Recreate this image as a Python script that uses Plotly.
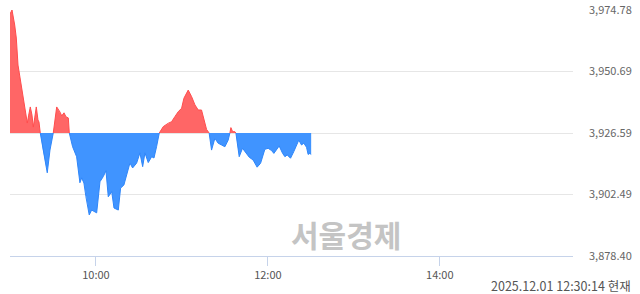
import plotly.graph_objects as go

# ---- data ----
times = [
    "09:00:00", "09:01:24", "09:03:17", "09:04:24", "09:05:35", "09:06:46", "09:07:53", "09:09:04",
    "09:10:16", "09:11:22", "09:12:04", "09:13:03", "09:14:10", "09:15:21", "09:16:16", "09:17:14",
    "09:18:21", "09:19:32", "09:20:14", "09:21:08", "09:23:00", "09:26:00", "09:27:54", "09:30:12",
    "09:32:36", "09:34:54", "09:36:06", "09:37:42", "09:39:06", "09:40:42", "09:41:24", "09:43:42",
    "09:46:30", "09:48:48", "09:50:00", "09:51:36", "09:53:00", "09:55:18", "09:57:00", "09:58:36",
    "10:00:30", "10:02:48", "10:05:06", "10:07:00", "10:08:36", "10:11:00", "10:12:36", "10:15:36",
    "10:17:12", "10:19:30", "10:21:24", "10:23:42", "10:25:36", "10:28:24", "10:30:42", "10:32:36",
    "10:34:12", "10:36:30", "10:38:54", "10:40:30", "10:42:18", "10:44:12", "10:47:00", "10:50:24",
    "10:52:48", "10:55:06", "10:57:24", "10:59:48", "11:01:24", "11:04:24", "11:06:48", "11:09:06",
    "11:11:24", "11:13:42", "11:15:18", "11:17:12", "11:19:00", "11:20:42", "11:23:00", "11:25:18",
    "11:27:42", "11:30:00", "11:32:18", "11:33:30", "11:34:12", "11:35:24", "11:37:00", "11:37:42",
    "11:38:36", "11:40:00", "11:42:18", "11:45:06", "11:47:00", "11:49:42", "11:52:30", "11:54:54",
    "11:57:54", "12:00:12", "12:02:36", "12:04:12", "12:06:06", "12:07:54", "12:10:18", "12:11:54",
    "12:13:30", "12:15:48", "12:18:06", "12:20:00", "12:21:36", "12:23:30", "12:25:06", "12:27:00",
    "12:28:06", "12:29:18", "12:30:14",
]
values = [
    3973.2, 3974.78, 3968.9, 3963.8, 3953.2, 3949.3, 3945.4, 3941.5,
    3937.6, 3933.6, 3930.5, 3933.6, 3936.8, 3933.6, 3928.9, 3932.5,
    3936.8, 3931.7, 3930.9, 3926.59, 3919.9, 3911.0, 3919.9, 3926.59,
    3936.8, 3934.8, 3933.3, 3934.5, 3932.9, 3932.5, 3926.59, 3921.2,
    3917.3, 3907.1, 3909.0, 3907.0, 3901.6, 3894.5, 3896.4, 3895.8,
    3895.3, 3907.5, 3909.5, 3911.8, 3901.6, 3903.6, 3897.2, 3896.4,
    3905.0, 3906.2, 3910.1, 3914.8, 3912.9, 3914.8, 3918.8, 3913.4,
    3918.8, 3915.0, 3917.3, 3916.8, 3921.2, 3926.59, 3929.1, 3930.4,
    3931.0, 3933.0, 3934.9, 3936.3, 3940.2, 3943.4, 3940.8, 3937.6,
    3935.6, 3935.6, 3932.3, 3928.0, 3926.59, 3919.9, 3924.5, 3922.6,
    3921.9, 3921.2, 3923.8, 3926.59, 3928.7, 3927.1, 3927.1, 3926.59,
    3922.6, 3917.3, 3920.6, 3918.6, 3917.1, 3916.0, 3913.2, 3914.7,
    3920.2, 3920.6, 3919.7, 3918.6, 3919.9, 3921.5, 3918.6, 3917.3,
    3918.0, 3916.7, 3919.3, 3921.5, 3923.8, 3921.9, 3922.6, 3921.0,
    3918.2, 3918.6, 3918.2,
]
prev_close = 3926.59
ytick_vals = [3878.40, 3902.49, 3926.59, 3950.69, 3974.78]
ytick_text = ["3,878.40", "3,902.49", "3,926.59", "3,950.69", "3,974.78"]
xtick_times = ["10:00", "12:00", "14:00"]
date = "2025-12-01"
stamp = "2025.12.01 12:30:14 현재"
watermark = "서울경제"

# ---- derived ----
x = [f"{date} {t}" for t in times]
n = len(values)
base = [prev_close] * n
up = [max(v, prev_close) for v in values]
dn = [min(v, prev_close) for v in values]
up_line = [v if v >= prev_close else None for v in values]
dn_line = [v if v <= prev_close else None for v in values]

RED_FILL = "rgb(255,102,102)"
RED_LINE = "rgb(255,77,77)"
BLUE_FILL = "rgb(64,148,255)"
BLUE_LINE = "rgb(46,134,250)"

fig = go.Figure()
fig.add_trace(go.Scatter(x=x, y=base, mode="lines", line=dict(width=0), hoverinfo="skip", showlegend=False))
fig.add_trace(go.Scatter(x=x, y=up, mode="lines", line=dict(width=0), fill="tonexty",
                         fillcolor=RED_FILL, hoverinfo="skip", showlegend=False))
fig.add_trace(go.Scatter(x=x, y=base, mode="lines", line=dict(width=0), hoverinfo="skip", showlegend=False))
fig.add_trace(go.Scatter(x=x, y=dn, mode="lines", line=dict(width=0), fill="tonexty",
                         fillcolor=BLUE_FILL, hoverinfo="skip", showlegend=False))
fig.add_trace(go.Scatter(x=x, y=up_line, mode="lines", line=dict(width=1, color=RED_LINE),
                         connectgaps=False, showlegend=False))
fig.add_trace(go.Scatter(x=x, y=dn_line, mode="lines", line=dict(width=1, color=BLUE_LINE),
                         connectgaps=False, showlegend=False))

FONT = "Noto Sans CJK KR, Noto Sans, sans-serif"
AXIS = "#c6d3ea"

fig.update_layout(
    width=640, height=294,
    margin=dict(l=10, r=67, t=10, b=38),
    paper_bgcolor="white", plot_bgcolor="white",
    font=dict(family=FONT, size=11, color="#666666"),
    showlegend=False,
    xaxis=dict(
        type="date",
        range=[f"{date} 09:00", f"{date} 15:33"],
        tickvals=[f"{date} {t}" for t in xtick_times],
        ticktext=xtick_times,
        ticks="outside", ticklen=9, tickcolor=AXIS, tickwidth=1,
        showline=True, linecolor=AXIS, linewidth=1,
        showgrid=False, zeroline=False,
        tickfont=dict(size=11, color="#555555"),
        automargin=False,
        fixedrange=True,
    ),
    yaxis=dict(
        side="right",
        range=[ytick_vals[0], ytick_vals[-1]],
        tickvals=ytick_vals, ticktext=ytick_text,
        showgrid=True, gridcolor="#e6e6e6", gridwidth=1,
        zeroline=False, showline=False, ticks="",
        ticklabelstandoff=15,
        tickfont=dict(size=11, color="#666666"),
        automargin=False,
        fixedrange=True,
    ),
    annotations=[
        dict(text=stamp, xref="paper", yref="paper", x=1.1048, y=-0.118,
             xanchor="right", yanchor="middle", showarrow=False, borderpad=0,
             font=dict(size=12.5, color="#555555")),
        dict(text=f"<b>{watermark}</b>", xref="paper", yref="paper", x=0.597, y=0.089,
             xanchor="center", yanchor="middle", showarrow=False,
             font=dict(size=30, color="#c4c4c4")),
    ],
)

fig.write_html("out.html")
